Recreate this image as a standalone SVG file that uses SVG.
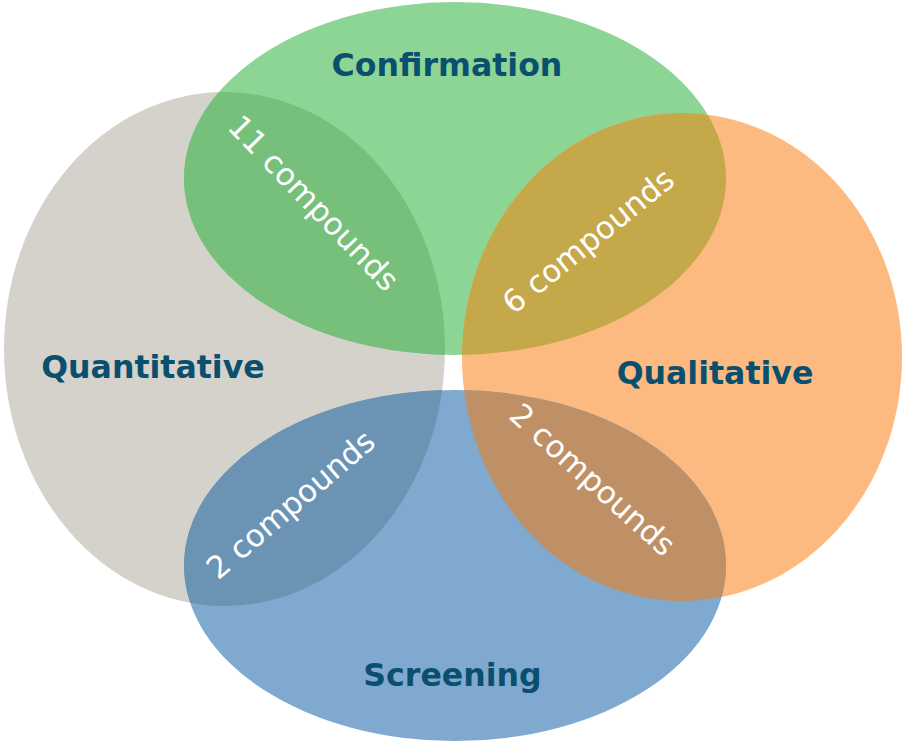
<svg xmlns="http://www.w3.org/2000/svg" width="902" height="741" viewBox="0 0 902 741">
  <style>
    .title { font-family: "DejaVu Sans", Verdana, sans-serif; font-weight: bold; font-size: 31.6px; fill: #0B4F6F; text-anchor: middle; }
    .count { font-family: "DejaVu Sans", Verdana, sans-serif; font-size: 31px; fill: #FFFFFF; text-anchor: middle; }
  </style>
  <defs>
    <clipPath id="clipQuant"><ellipse cx="224.5" cy="349" rx="220.5" ry="257"/></clipPath>
    <clipPath id="clipQual"><ellipse cx="682" cy="357" rx="220" ry="244"/></clipPath>
  </defs>
  <rect width="902" height="741" fill="#FFFFFF"/>

  <g id="quantitative">
    <ellipse cx="224.5" cy="349" rx="220.5" ry="257" fill="#D5D2CB"/>
  </g>
  <g id="confirmation">
    <ellipse cx="455" cy="178.5" rx="271" ry="176.5" fill="#8DD594"/>
  </g>
  <g id="qualitative">
    <ellipse cx="682" cy="357" rx="220" ry="244" fill="#FDBA80"/>
  </g>
  <g id="screening">
    <ellipse cx="455" cy="565.5" rx="271" ry="175.5" fill="#80A9CF"/>
  </g>

  <g id="overlap-quant-conf">
    <ellipse cx="455" cy="178.5" rx="271" ry="176.5" fill="#76C07B" clip-path="url(#clipQuant)"/>
  </g>
  <g id="overlap-conf-qual">
    <ellipse cx="455" cy="178.5" rx="271" ry="176.5" fill="#C5A84A" clip-path="url(#clipQual)"/>
  </g>
  <g id="overlap-quant-screen">
    <ellipse cx="455" cy="565.5" rx="271" ry="175.5" fill="#6A93B4" clip-path="url(#clipQuant)"/>
  </g>
  <g id="overlap-qual-screen">
    <ellipse cx="455" cy="565.5" rx="271" ry="175.5" fill="#BF9066" clip-path="url(#clipQual)"/>
  </g>

  <g id="labels">
    <text class="title" x="447" y="76">Confirmation</text>
    <text class="title" x="153" y="378">Quantitative</text>
    <text class="title" x="715" y="384">Qualitative</text>
    <text class="title" x="452.5" y="686">Screening</text>
  </g>

  <g id="counts">
    <g transform="translate(311.7,205) rotate(46)"><text class="count" x="0" y="8">11 compounds</text></g>
    <g transform="translate(590,243) rotate(-39)"><text class="count" x="0" y="8">6 compounds</text></g>
    <g transform="translate(292.5,506.7) rotate(-40.5)"><text class="count" x="0" y="8">2 compounds</text></g>
    <g transform="translate(590.8,481.7) rotate(42)"><text class="count" x="0" y="8">2 compounds</text></g>
  </g>
</svg>
